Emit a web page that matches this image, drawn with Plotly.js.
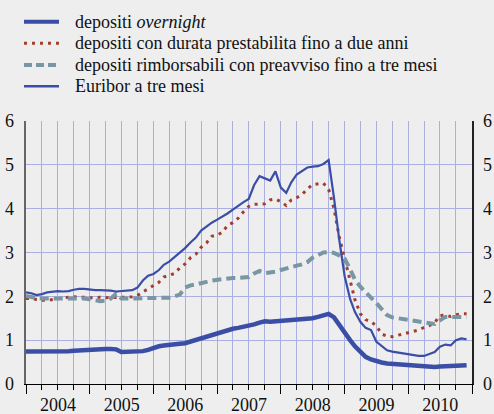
<!DOCTYPE html>
<html>
<head>
<meta charset="utf-8">
<script src="https://cdn.plot.ly/plotly-3.0.1.min.js"></script>
<style>
  html, body { margin: 0; padding: 0; background: #eeeeee; }
  #chart { width: 494px; height: 414px; }
</style>
</head>
<body>
<div id="chart"></div>
<script>
// Monthly data, January 2004 - December 2010
const startYear = 2004;
const seriesNames = [
  'depositi <i>overnight</i>',
  'depositi con durata prestabilita fino a due anni',
  'depositi rimborsabili con preavviso fino a tre mesi',
  'Euribor a tre mesi'
];

const overnight = [
  0.74,0.74,0.73,0.73,0.73,0.73,0.73,0.74,0.75,0.76,0.77,0.78,
  0.78,0.79,0.79,0.80,0.80,0.79,0.73,0.73,0.73,0.74,0.75,0.78,
  0.83,0.86,0.88,0.90,0.91,0.92,0.93,0.97,1.01,1.05,1.08,1.11,
  1.15,1.19,1.22,1.26,1.28,1.30,1.32,1.36,1.40,1.43,1.42,1.43,
  1.44,1.45,1.46,1.47,1.47,1.48,1.50,1.53,1.57,1.60,1.52,1.35,
  1.15,1.00,0.86,0.72,0.62,0.56,0.52,0.49,0.47,0.46,0.45,0.44,
  0.42,0.41,0.40,0.40,0.39,0.39,0.40,0.41,0.41,0.42,0.43,0.43
];

const dueAnni = [
  1.95,1.95,1.93,1.91,1.91,1.93,1.95,1.97,1.98,1.99,1.98,1.98,
  1.97,1.97,1.98,1.97,1.97,1.97,1.97,1.98,1.99,2.02,2.10,2.17,
  2.24,2.32,2.44,2.48,2.52,2.65,2.74,2.88,2.96,3.12,3.22,3.37,
  3.40,3.46,3.62,3.68,3.78,3.93,4.05,4.10,4.11,4.11,4.20,4.22,
  4.16,4.07,4.20,4.25,4.32,4.45,4.55,4.57,4.58,4.44,4.00,3.35,
  2.85,2.32,1.92,1.60,1.47,1.42,1.33,1.14,1.09,1.08,1.11,1.15,
  1.17,1.20,1.23,1.29,1.33,1.40,1.56,1.57,1.54,1.58,1.60,1.60
];

const treMesi = [
  2.01,1.98,1.96,1.95,1.94,1.95,1.95,1.95,1.96,1.95,1.95,1.95,
  1.93,1.90,1.89,1.90,1.95,2.06,1.95,1.95,1.95,1.97,1.97,1.97,
  1.96,1.96,1.96,1.97,2.00,2.04,2.20,2.25,2.27,2.29,2.33,2.36,
  2.38,2.39,2.40,2.42,2.42,2.42,2.44,2.52,2.58,2.53,2.54,2.56,
  2.60,2.64,2.67,2.70,2.73,2.78,2.88,2.95,3.00,3.01,2.99,2.93,
  2.86,2.62,2.38,2.22,2.08,1.97,1.85,1.70,1.57,1.52,1.50,1.48,
  1.46,1.44,1.41,1.41,1.39,1.37,1.45,1.53,1.53,1.53,1.53,1.53
];

const euribor = [
  2.09,2.07,2.03,2.05,2.09,2.11,2.12,2.11,2.12,2.15,2.17,2.17,
  2.15,2.14,2.14,2.14,2.13,2.11,2.12,2.13,2.14,2.20,2.36,2.47,
  2.51,2.60,2.72,2.79,2.89,2.99,3.10,3.23,3.34,3.50,3.60,3.68,
  3.75,3.82,3.89,3.98,4.07,4.15,4.22,4.54,4.74,4.69,4.64,4.85,
  4.48,4.36,4.60,4.78,4.86,4.94,4.96,4.97,5.02,5.11,4.24,3.29,
  2.46,1.94,1.64,1.42,1.28,1.23,0.97,0.86,0.77,0.74,0.72,0.71,
  0.68,0.66,0.64,0.64,0.69,0.73,0.85,0.90,0.88,1.00,1.04,1.02
];

const yTicks = [0,1,2,3,4,5,6];

function monthDates(n) {
  const out = [];
  for (let i = 0; i < n; i++) {
    const y = startYear + Math.floor(i / 12);
    const m = (i % 12) + 1;
    out.push(y + '-' + (m < 10 ? '0' + m : m) + '-01');
  }
  return out;
}
const dates = monthDates(euribor.length);

const blue = '#3a4ea6';
const serif = 'Liberation Serif, Times New Roman, serif';
const styles = [
  { color: blue, width: 4.5, dash: 'solid' },
  { color: '#a23e2e', width: 3, dash: '3px,5px' },
  { color: '#7896a4', width: 4, dash: '9px,5px' },
  { color: blue, width: 2.2, dash: 'solid' }
];
const seriesValues = [overnight, dueAnni, treMesi, euribor];

const traces = seriesValues.map((vals, i) => ({
  x: dates, y: vals, name: seriesNames[i], type: 'scatter', mode: 'lines',
  line: styles[i], showlegend: false
}));
traces.push({ x: [], y: [], yaxis: 'y2', showlegend: false, hoverinfo: 'skip', type: 'scatter', mode: 'lines' });

// Legend drawn as paper-positioned samples + text (plot area: x 26..472, y 121..384 px)
const M = { l: 26, r: 22, t: 121, b: 30 };
const W = 494, H = 414;
const pw = W - M.l - M.r, ph = H - M.t - M.b;
const px = v => (v - M.l) / pw;
const py = v => (H - M.b - v) / ph;
const legendRows = [21.7, 43.3, 65, 86.3];

const shapes = legendRows.map((r, i) => ({
  type: 'line', xref: 'paper', yref: 'paper',
  x0: px(24), x1: px(59), y0: py(r), y1: py(r),
  line: { color: styles[i].color, width: i === 0 ? 4 : (i === 3 ? 2.5 : styles[i].width),
          dash: styles[i].dash === '9px,5px' ? '8px,4px' : styles[i].dash }
}));
const annotations = legendRows.map((r, i) => ({
  xref: 'paper', yref: 'paper', x: px(73), y: py(r),
  xanchor: 'left', yanchor: 'middle', showarrow: false,
  text: seriesNames[i],
  font: { family: serif, size: 18, color: '#111111' }
}));

const grid = '#aaaee0';

const layout = {
  width: W, height: H,
  paper_bgcolor: '#eeeeee', plot_bgcolor: '#eeeeee',
  margin: { l: M.l, r: M.r, t: M.t, b: M.b, autoexpand: false },
  font: { family: serif, size: 18, color: '#111111' },
  showlegend: false,
  shapes: shapes,
  annotations: annotations,
  xaxis: {
    type: 'date',
    range: ['2004-01-01', '2011-01-01'],
    tick0: '2004-01-01', dtick: 'M12',
    tickformat: '%Y', ticklabelmode: 'period',
    ticks: 'outside', ticklen: 9, tickwidth: 1, tickcolor: '#000000',
    ticklabelstandoff: -5,
    showgrid: true, gridcolor: grid, gridwidth: 1,
    showline: true, linecolor: '#000000', linewidth: 1,
    zeroline: false,
    minor: { dtick: 'M3', ticks: 'outside', ticklen: 5, tickcolor: '#000000',
             showgrid: true, gridcolor: grid, gridwidth: 1 },
    tickfont: { family: serif, size: 18, color: '#111111' },
    fixedrange: true
  },
  yaxis: {
    range: [0, 6], tickvals: yTicks, ticktext: yTicks.map(String),
    showgrid: true, gridcolor: grid, gridwidth: 1,
    showline: true, linecolor: '#666666', linewidth: 2.5,
    zeroline: false, ticks: '', ticklabelstandoff: 6,
    tickfont: { family: serif, size: 18, color: '#111111' },
    fixedrange: true
  },
  yaxis2: {
    overlaying: 'y', side: 'right',
    range: [0, 6], tickvals: yTicks, ticktext: yTicks.map(String),
    showgrid: false, zeroline: false,
    showline: true, linecolor: '#222222', linewidth: 1.5,
    ticks: '', ticklabelstandoff: 6,
    tickfont: { family: serif, size: 18, color: '#111111' },
    fixedrange: true
  }
};

Plotly.newPlot('chart', traces, layout, { displayModeBar: false, staticPlot: true });
</script>
</body>
</html>
